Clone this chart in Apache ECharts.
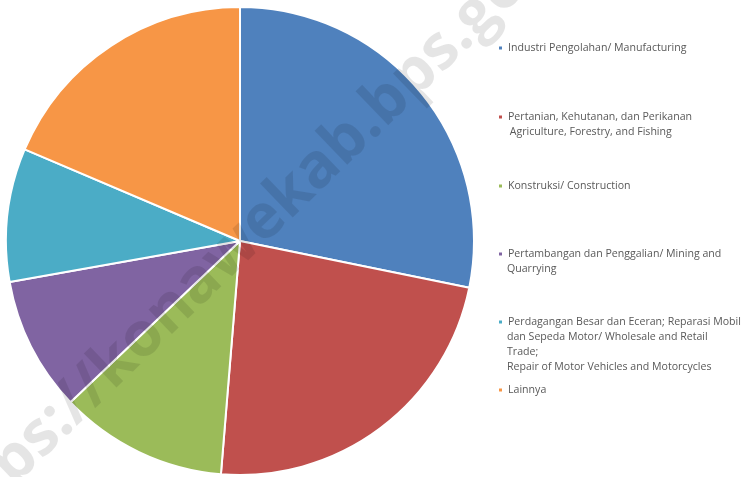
<!DOCTYPE html>
<html>
<head>
<meta charset="utf-8">
<script src="https://cdn.jsdelivr.net/npm/echarts@6/dist/echarts.min.js"></script>
<style>
  html, body { margin: 0; padding: 0; background: #fff; }
  #main { width: 744px; height: 477px; }
</style>
</head>
<body>
<div id="main"></div>
<script>
// sektor (urut searah jarum jam dari atas)
var categories = [
  'Industri Pengolahan/ Manufacturing',
  'Pertanian, Kehutanan, dan Perikanan\n Agriculture, Forestry, and Fishing',
  'Konstruksi/ Construction',
  'Pertambangan dan Penggalian/ Mining and\nQuarrying',
  'Perdagangan Besar dan Eceran; Reparasi Mobil\ndan Sepeda Motor/ Wholesale and Retail\nTrade;\nRepair of Motor Vehicles and Motorcycles',
  'Lainnya'
];
var shares = [28.2, 23.1, 11.6, 9.3, 9.2, 18.6]; // persen
var colors = ['#4f81bd', '#c0504d', '#9bbb59', '#8064a2', '#4bacc6', '#f79646'];

var chartDom = document.getElementById('main');
var myChart = echarts.init(chartDom);

// posisi baris pertama tiap item legend
var legendY = [48, 117, 186, 254, 322, 390];
var lineH = 15;
var legendFont = { fontFamily: 'Open Sans', fontSize: 10.6, color: '#595959' };

// legend cuma baris pertama, sisanya ditulis pakai graphic
var legends = categories.map(function (name, i) {
  return {
    data: [name],
    orient: 'vertical',
    left: 497,
    top: legendY[i] - lineH / 2,
    padding: 0,
    itemWidth: 5,
    itemHeight: 5,
    icon: 'rect',
    selectedMode: false,
    formatter: function (n) { return n.split('\n')[0]; },
    textStyle: Object.assign({ lineHeight: lineH }, legendFont)
  };
});

var extraLines = [];
categories.forEach(function (name, i) {
  name.split('\n').slice(1).forEach(function (line, k) {
    extraLines.push({
      type: 'text',
      x: 507,
      y: legendY[i] + lineH * (k + 1),
      style: {
        text: line,
        font: legendFont.fontSize + 'px "' + legendFont.fontFamily + '"',
        fill: legendFont.color,
        verticalAlign: 'middle'
      }
    });
  });
});

var option = {
  animation: false,
  color: colors,
  legend: legends,
  graphic: extraLines.concat([{
    type: 'text',
    z: 100,
    x: 252,
    y: 232,
    rotation: 44 * Math.PI / 180,
    style: {
      text: 'https://konawekab.bps.go.id',
      font: 'bold 62px "Open Sans"',
      fill: 'rgba(0,0,0,0.1)',
      align: 'center',
      verticalAlign: 'middle'
    }
  }]),
  series: [
    {
      type: 'pie',
      center: [240, 241],
      radius: 234,
      startAngle: 90,
      clockwise: true,
      label: { show: false },
      labelLine: { show: false },
      itemStyle: { borderColor: '#fff', borderWidth: 2 },
      emphasis: { disabled: true },
      data: categories.map(function (c, i) {
        return { name: c, value: shares[i] };
      })
    }
  ]
};
myChart.setOption(option);
</script>
</body>
</html>
